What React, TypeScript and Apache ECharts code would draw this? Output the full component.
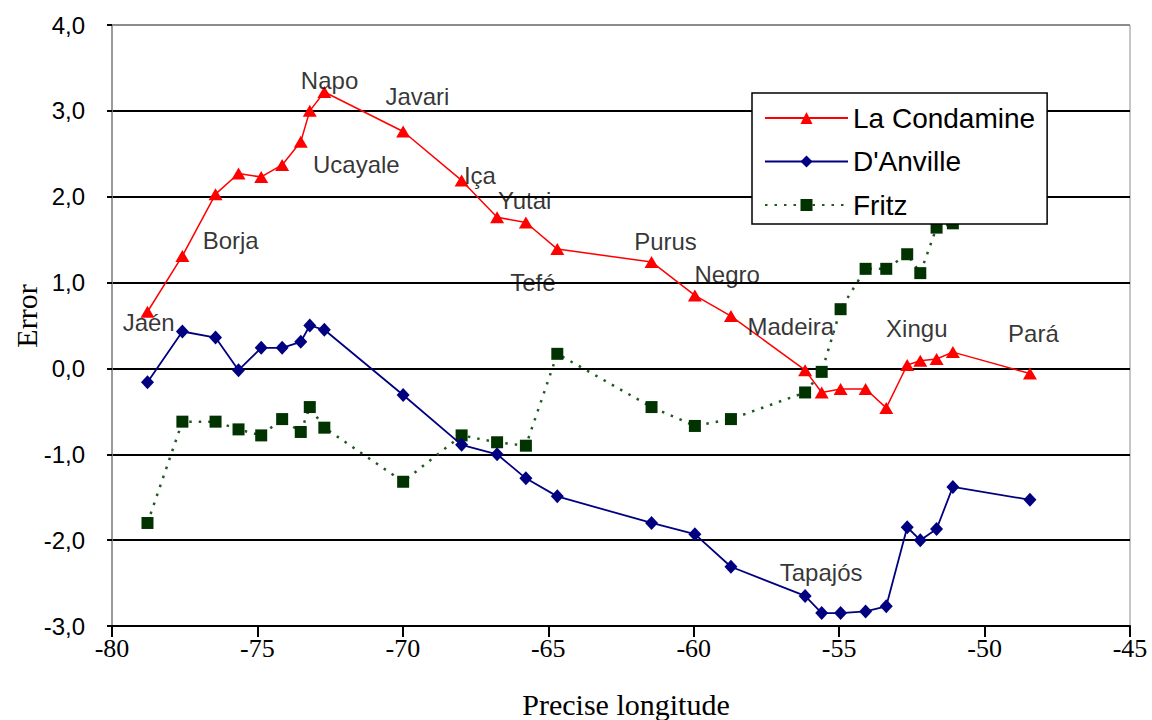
import React, { useEffect, useRef } from "react";
import * as echarts from "echarts";

const longitudes = [
  -78.78, -77.58, -76.44, -75.65, -74.87, -74.15, -73.51, -73.2, -72.7, -69.99,
  -67.98, -66.76, -65.77, -64.69, -61.45, -59.96, -58.72, -56.17, -55.6, -54.95,
  -54.09, -53.38, -52.66, -52.21, -51.65, -51.09, -48.44,
];
const laCondamine = [
  0.66, 1.31, 2.03, 2.27, 2.23, 2.37, 2.64, 3.0, 3.22, 2.76, 2.19, 1.76, 1.7,
  1.39, 1.24, 0.85, 0.61, -0.02, -0.28, -0.24, -0.24, -0.46, 0.04, 0.09, 0.11,
  0.19, -0.06,
];
const dAnville = [
  -0.16, 0.43, 0.36, -0.02, 0.24, 0.24, 0.31, 0.5, 0.45, -0.31, -0.89, -1.0,
  -1.28, -1.49, -1.8, -1.93, -2.31, -2.65, -2.85, -2.85, -2.83, -2.77, -1.85,
  -2.0, -1.87, -1.38, -1.53,
];
const fritz = [
  -1.8, -0.62, -0.62, -0.71, -0.78, -0.59, -0.74, -0.45, -0.69, -1.32, -0.78,
  -0.86, -0.9, 0.17, -0.45, -0.67, -0.59, -0.28, -0.04, 0.69, 1.16, 1.16, 1.33,
  1.11, 1.64, 1.69, 1.77,
];

const placeNames = [
  "Jaén", "Borja", "Ucayale", "Napo", "Javari", "Iça", "Yutai", "Tefé",
  "Purus", "Negro", "Madeira", "Xingu", "Pará", "Tapajós",
];
const placeLon = [
  -78.74, -75.92, -71.6, -72.52, -69.5, -67.35, -65.81, -65.53, -60.97,
  -58.85, -56.66, -52.33, -48.32, -55.62,
];
const placeVal = [
  0.53, 1.49, 2.37, 3.35, 3.17, 2.25, 1.96, 1.0, 1.48, 1.09, 0.49, 0.47, 0.41,
  -2.38,
];

const seriesNames = ["La Condamine", "D'Anville", "Fritz"];
const yTicks = { min: -3, max: 4, interval: 1 };
const xTicks = { min: -80, max: -45, interval: 5 };

const sans = "Liberation Sans";
const serif = "Liberation Serif";

export default function App() {
  const ref = useRef<HTMLDivElement>(null);
  useEffect(() => {
    if (!ref.current) return;
    const chart = echarts.init(ref.current, null, { renderer: "svg" });
    const pair = (vals: number[]) => longitudes.map((x, i) => [x, vals[i]]);
    const gridColors = [
      "#000", "#000", "#000", "#000", "#000", "#000", "#000", "#8c8c8c",
    ];
    chart.setOption({
      animation: false,
      backgroundColor: "#fff",
      grid: {
        left: 112,
        right: 22,
        top: 25,
        bottom: 94,
        show: true,
        borderColor: "#8c8c8c",
        borderWidth: 1,
        backgroundColor: "transparent",
      },
      xAxis: {
        type: "value",
        min: xTicks.min,
        max: xTicks.max,
        interval: xTicks.interval,
        axisLine: { show: true, onZero: false, lineStyle: { color: "#000", width: 2 } },
        axisTick: { show: true, inside: false, length: 11, lineStyle: { color: "#000", width: 2 } },
        splitLine: { show: false },
        axisLabel: {
          margin: 9,
          color: "#000",
          fontFamily: serif,
          fontSize: 26,
        },
      },
      yAxis: {
        type: "value",
        min: yTicks.min,
        max: yTicks.max,
        interval: yTicks.interval,
        axisLine: { show: true, onZero: false, lineStyle: { color: "#8c8c8c", width: 1.5 } },
        axisTick: { show: true, length: 5, lineStyle: { color: "#000", width: 2 } },
        splitLine: { show: true, lineStyle: { color: gridColors, width: 2 } },
        axisLabel: {
          margin: 27,
          color: "#000",
          fontFamily: sans,
          fontSize: 24,
          formatter: (v: number) => v.toFixed(1).replace(".", ","),
        },
      },
      legend: {
        data: seriesNames,
        orient: "vertical",
        left: 752,
        top: 93,
        itemWidth: 83,
        itemHeight: 15,
        itemGap: 13.5,
        padding: [10, 12, 4, 12],
        backgroundColor: "#fff",
        borderColor: "#000",
        borderWidth: 1.5,
        borderRadius: 0,
        textStyle: { fontFamily: sans, fontSize: 28, color: "#000", lineHeight: 30 },
      },
      graphic: [
        {
          type: "text",
          x: 626,
          y: 704,
          style: {
            text: "Precise longitude",
            fontFamily: serif,
            fontSize: 30,
            fill: "#000",
            textAlign: "center",
            textVerticalAlign: "middle",
          },
        },
        {
          type: "text",
          x: 26,
          y: 316,
          rotation: Math.PI / 2,
          style: {
            text: "Error",
            fontFamily: serif,
            fontSize: 30,
            fill: "#000",
            textAlign: "center",
            textVerticalAlign: "middle",
          },
        },
      ],
      series: [
        {
          name: seriesNames[0],
          type: "line",
          data: pair(laCondamine),
          symbol: "triangle",
          symbolSize: [14, 12],
          showAllSymbol: true,
          itemStyle: { color: "#ff0000" },
          lineStyle: { color: "#ff0000", width: 1.5 },
          z: 4,
        },
        {
          name: seriesNames[1],
          type: "line",
          data: pair(dAnville),
          symbol: "diamond",
          symbolSize: [13, 14],
          showAllSymbol: true,
          itemStyle: { color: "#000080" },
          lineStyle: { color: "#000080", width: 1.8 },
          z: 3,
        },
        {
          name: seriesNames[2],
          type: "line",
          data: pair(fritz),
          symbol: "rect",
          symbolSize: 12,
          showAllSymbol: true,
          itemStyle: { color: "#003300" },
          lineStyle: { color: "#1f5a1f", width: 2.5, type: [2.5, 7] },
          z: 2,
        },
        {
          name: "labels",
          type: "scatter",
          data: placeNames.map((n, i) => ({ name: n, value: [placeLon[i], placeVal[i]] })),
          symbolSize: 0,
          silent: true,
          z: 5,
          label: {
            show: true,
            position: "inside",
            formatter: (p: any) => p.name,
            fontFamily: sans,
            fontSize: 24,
            color: "#000",
          },
        },
      ],
    });
    return () => chart.dispose();
  }, []);
  return <div ref={ref} style={{ width: 1152, height: 720, position: "absolute", left: 0, top: 0 }} />;
}
